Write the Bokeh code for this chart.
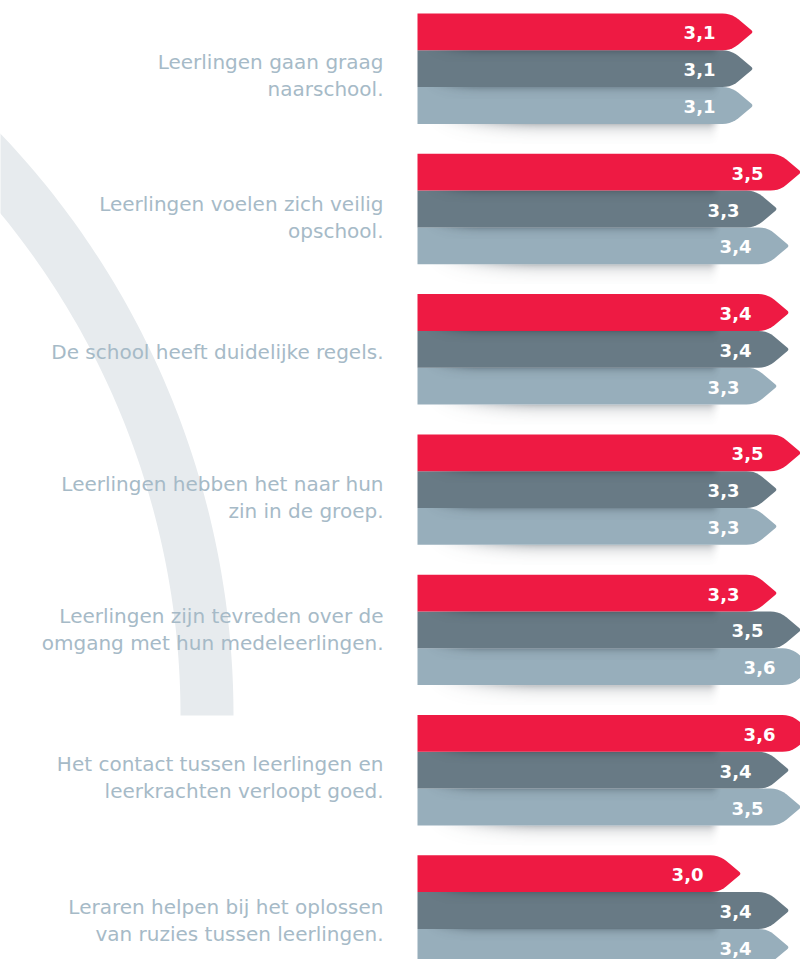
import numpy as np
from bokeh.plotting import figure
from bokeh.models import Range1d, ColumnDataSource
from bokeh.embed import file_html
from bokeh.resources import INLINE
from bokeh.core.properties import value

# ---------------- data ----------------
categories = [
    "Leerlingen gaan graag\nnaarschool.",
    "Leerlingen voelen zich veilig\nopschool.",
    "De school heeft duidelijke regels.",
    "Leerlingen hebben het naar hun\nzin in de groep.",
    "Leerlingen zijn tevreden over de\nomgang met hun medeleerlingen.",
    "Het contact tussen leerlingen en\nleerkrachten verloopt goed.",
    "Leraren helpen bij het oplossen\nvan ruzies tussen leerlingen.",
]
series_red = [3.1, 3.5, 3.4, 3.5, 3.3, 3.6, 3.0]
series_dark = [3.1, 3.3, 3.4, 3.3, 3.5, 3.4, 3.4]
series_light = [3.1, 3.4, 3.3, 3.3, 3.6, 3.5, 3.4]

# ---------------- layout / style ----------------
W, H = 800, 959
PX_X = 120.0            # pixels per value unit
X_LEFT = -3.175         # value at left edge
PX_Y = 140.3            # pixels per group
Y_TOP = 68.2 / PX_Y     # group-coordinate at top edge
BASE = 0.30             # value where bars start

RED = "#EE1A43"
DARK = "#687A85"
LIGHT = "#97AEBB"
LABEL_COL = "#A6BAC7"
ARC_COL = "#E7EBEE"
LABEL_FONT = "DejaVu Sans"
VALUE_FONT = "DejaVu Sans"

def X(px):
    return X_LEFT + px / PX_X

def Y(py):
    return Y_TOP - py / PX_Y

def px_of_x(v):
    return (v - X_LEFT) * PX_X

def py_of_y(y):
    return (Y_TOP - y) * PX_Y

p = figure(width=W, height=H, output_backend="svg", toolbar_location=None,
           x_range=Range1d(X_LEFT, X_LEFT + W / PX_X),
           y_range=Range1d(Y_TOP - H / PX_Y, Y_TOP),
           min_border=0, min_border_left=0, min_border_right=0,
           min_border_top=0, min_border_bottom=0)
p.axis.visible = False
p.grid.visible = False
p.outline_line_color = None
p.background_fill_color = "white"
p.border_fill_color = "white"

# ---------------- decorative arc ----------------
cx, cy, r_out, r_in = -610.0, 715.0, 843.0, 790.0
th = np.linspace(0, np.radians(62), 120)
ax_px = np.concatenate([cx + r_out * np.cos(th), (cx + r_in * np.cos(th))[::-1]])
ay_px = np.concatenate([cy - r_out * np.sin(th), (cy - r_in * np.sin(th))[::-1]])
p.patch(X(ax_px), Y(ay_px), fill_color=ARC_COL, line_color=None)

# ---------------- arrow shapes ----------------
BAR_H = 36.8 / PX_Y
half_px = 18.4

def qbez(p0, p1, p2, n=6):
    t = np.linspace(0, 1, n)[:, None]
    return (1 - t) ** 2 * np.array(p0) + 2 * (1 - t) * t * np.array(p1) + t ** 2 * np.array(p2)

def arrow(v, yc):
    tx = px_of_x(v)
    bx = px_of_x(BASE)
    c = py_of_y(yc)
    top, bot = c - half_px, c + half_px
    cxn = tx - 22.0
    r = 9.0
    d = np.array([22.0, half_px]); d = d / np.linalg.norm(d)
    pts = [(bx, top), (cxn - r, top)]
    pts += [tuple(q) for q in qbez((cxn - r, top), (cxn, top), (cxn + r * d[0], top + r * d[1]))[1:]]
    rt = 3.0
    pts += [tuple(q) for q in qbez((tx - rt * d[0], c - rt * d[1]), (tx, c), (tx - rt * d[0], c + rt * d[1]))]
    pts += [tuple(q) for q in qbez((cxn + r * d[0], bot - r * d[1]), (cxn, bot), (cxn - r, bot))]
    pts += [(bx, bot)]
    arr = np.array(pts)
    return list(X(arr[:, 0])), list(Y(arr[:, 1]))

groups = np.arange(len(categories))
yc_dark = -groups.astype(float)
offsets = {"red": BAR_H, "dark": 0.0, "light": -BAR_H}
series = [("light", series_light, LIGHT), ("dark", series_dark, DARK), ("red", series_red, RED)]

# shadow image helper
def shadow_img(w, h, amax, tau, ramp_l, ramp_r, rgb):
    img = np.zeros((h, w), dtype=np.uint32)
    view = img.view(dtype=np.uint8).reshape((h, w, 4))
    xx = np.arange(w)
    fx = np.clip(xx / ramp_l, 0, 1) * np.clip((w - 1 - xx) / ramp_r, 0, 1)
    fx = fx * fx * (3 - 2 * fx)
    rows = np.arange(h)
    dist_top = (h - 1 - rows)          # row 0 is bottom
    fy = np.exp(-dist_top / tau)
    a = amax * fy[:, None] * fx[None, :]
    view[:, :, 0] = rgb[0]
    view[:, :, 1] = rgb[1]
    view[:, :, 2] = rgb[2]
    view[:, :, 3] = np.clip(a * 255, 0, 255).astype(np.uint8)
    return img

S_X0, S_X1 = 420.0, 722.0
sw = int(S_X1 - S_X0)

# drop shadow below each group
drop_h = 20
drop = shadow_img(sw, drop_h, 0.30, 6.0, 120.0, 14.0, (40, 50, 60))
yb = yc_dark - offsets["dark"] - BAR_H * 1.5  # bottom of light bar
p.image_rgba(image=[drop] * len(groups), x=[X(S_X0)] * len(groups),
             y=list(yb - drop_h / PX_Y), dw=sw / PX_X, dh=drop_h / PX_Y)

for name, vals, col in series:
    xs, ys = [], []
    for g, v in zip(groups, vals):
        a, b = arrow(v, yc_dark[g] + offsets[name])
        xs.append(a); ys.append(b)
    p.patches(xs, ys, fill_color=col, line_color=None)

# inner shadows at top of dark and light bars
in_h = 12
inner = shadow_img(sw, in_h, 0.26, 3.5, 60.0, 12.0, (30, 40, 50))
for name in ("dark", "light"):
    ytop = yc_dark + offsets[name] + BAR_H / 2
    p.image_rgba(image=[inner] * len(groups), x=[X(S_X0)] * len(groups),
                 y=list(ytop - in_h / PX_Y), dw=sw / PX_X, dh=in_h / PX_Y)

# value labels
for name, vals, col in series:
    src = ColumnDataSource(dict(
        x=[v - 38.0 / PX_X for v in vals],
        y=list(yc_dark + offsets[name]),
        t=[f"{v:.1f}".replace(".", ",") for v in vals]))
    p.text(x="x", y="y", text="t", source=src, text_align="right",
           text_baseline="middle", text_color="white",
           text_font=value(VALUE_FONT), text_font_style="bold",
           text_font_size="18px", y_offset=1)

# category labels
label_shift_px = [7, 8, 3, 7.5, -0.5, 7, 10]
line_px = 27.0
lx, ly, lt = [], [], []
for g, lab in enumerate(categories):
    lines = lab.split("\n")
    n = len(lines)
    center_py = py_of_y(yc_dark[g]) + label_shift_px[g]
    for k, ln in enumerate(lines):
        py = center_py + (k - (n - 1) / 2) * line_px
        lx.append(X(383)); ly.append(Y(py)); lt.append(ln)
p.text(x=lx, y=ly, text=lt, text_align="right", text_baseline="middle",
       text_color=LABEL_COL, text_font=value(LABEL_FONT),
       text_font_size="20px")

open("out.html", "w").write(file_html(p, INLINE))
